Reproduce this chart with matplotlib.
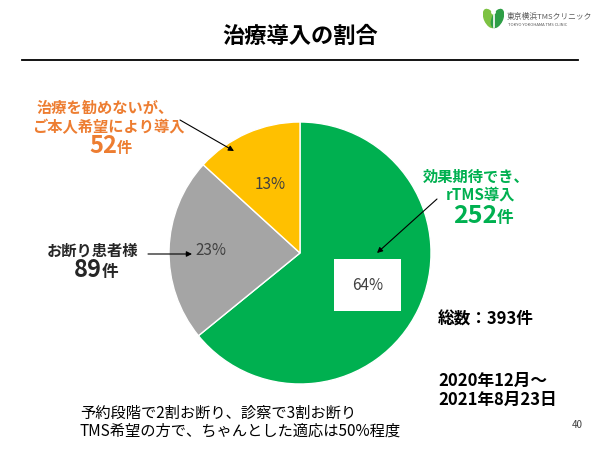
import numpy as np
import matplotlib
matplotlib.use('Agg')
import matplotlib.pyplot as plt
from matplotlib.patches import Ellipse, Circle
from matplotlib.lines import Line2D

plt.rcParams['font.family'] = ['Noto Sans CJK JP', 'DejaVu Sans']

# data
categories = ['効果期待でき、rTMS導入', 'お断り患者様', 'ご本人希望により導入']
counts = [252, 89, 52]
colors = ['#00B050', '#A5A5A5', '#FFC000']
total = 393

W, H = 600, 450
def fx(x):
    return x / W
def fy(y):
    return 1 - y / H

fig = plt.figure(figsize=(6, 4.5), dpi=100)

# pie
cx, cy, r = 300, 253, 131
ax = fig.add_axes([fx(cx - r), fy(cy + r), 2 * r / W, 2 * r / H])
wedges, texts, autotexts = ax.pie(counts, colors=colors, startangle=90, counterclock=False,
                                  autopct='%1.0f%%', pctdistance=0.57,
                                  wedgeprops=dict(edgecolor='white', linewidth=1),
                                  textprops=dict(color='#404040', fontsize=11))
ax.set_xlim(-1, 1)
ax.set_ylim(-1, 1)
ax.set_aspect('equal')
# gray label a bit further out
w = wedges[1]
ang = np.deg2rad((w.theta1 + w.theta2) / 2)
autotexts[1].set_position((0.68 * np.cos(ang), 0.68 * np.sin(ang)))
# white box behind the green value
autotexts[0].set_bbox(dict(facecolor='white', edgecolor='none', boxstyle='square,pad=1.15'))

# title + rule
fig.text(fx(300), fy(36), '治療導入の割合', ha='center', va='center', fontsize=16, fontweight='bold')
fig.add_artist(Line2D([fx(22), fx(578)], [fy(60), fy(60)], color='black', lw=1.3))

# logo
lax = fig.add_axes([fx(483), fy(29), 21 / W, 21 / H])
lax.set_xlim(-1, 1)
lax.set_ylim(-1, 1)
lax.set_aspect('equal')
lax.axis('off')
lax.add_patch(Ellipse((-0.38, 0.0), 0.95, 1.85, angle=25, color='#7DC242'))
lax.add_patch(Ellipse((0.38, 0.0), 0.95, 1.85, angle=-25, color='#2E9E46'))
lax.add_patch(Circle((0, 0.6), 0.16, color='white'))
lax.plot([0, 0], [0.35, -0.8], color='white', lw=1.2)
fig.text(fx(507), fy(17), '東京横浜TMSクリニック', ha='left', va='center', fontsize=5.6,
         color='#595959')
fig.text(fx(508), fy(24.5), 'TOKYO YOKOHAMA TMS CLINIC', ha='left', va='center', fontsize=3,
         color='#595959')

# labels
orange = '#ED7D31'
green = '#00B050'
fig.text(fx(105), fy(108), '治療を勧めないが、', ha='center', va='center', fontsize=11,
         fontweight='bold', color=orange)
fig.text(fx(108), fy(127), 'ご本人希望により導入', ha='center', va='center', fontsize=11,
         fontweight='bold', color=orange)
fig.text(fx(117), fy(153), str(counts[2]), ha='right', va='baseline', fontsize=17,
         fontweight='bold', color=orange)
fig.text(fx(117), fy(153), '件', ha='left', va='baseline', fontsize=11,
         fontweight='bold', color=orange)

fig.text(fx(476), fy(177), '効果期待でき、', ha='center', va='center', fontsize=11,
         fontweight='bold', color=green)
fig.text(fx(480), fy(195), 'rTMS導入', ha='center', va='center', fontsize=11,
         fontweight='bold', color=green)
fig.text(fx(497), fy(223), str(counts[0]), ha='right', va='baseline', fontsize=18,
         fontweight='bold', color=green)
fig.text(fx(497), fy(223), '件', ha='left', va='baseline', fontsize=12,
         fontweight='bold', color=green)

fig.text(fx(93), fy(251), 'お断り患者様', ha='center', va='center', fontsize=11,
         fontweight='bold', color='#262626')
fig.text(fx(102), fy(277), str(counts[1]), ha='right', va='baseline', fontsize=17,
         fontweight='bold', color='#262626')
fig.text(fx(102), fy(277), '件', ha='left', va='baseline', fontsize=12,
         fontweight='bold', color='#262626')

# arrows
arrow = dict(arrowstyle='-|>', color='black', lw=0.8, mutation_scale=8, shrinkA=0, shrinkB=0)
ax.annotate('', xy=(fx(234), fy(151)), xytext=(fx(180), fy(120)), xycoords='figure fraction',
            textcoords='figure fraction', arrowprops=arrow)
ax.annotate('', xy=(fx(377), fy(253)), xytext=(fx(437), fy(199)), xycoords='figure fraction',
            textcoords='figure fraction', arrowprops=arrow)
ax.annotate('', xy=(fx(192), fy(254)), xytext=(fx(148), fy(254)), xycoords='figure fraction',
            textcoords='figure fraction', arrowprops=arrow)

# side notes
fig.text(fx(438), fy(320), '総数：%d件' % total, ha='left', va='center', fontsize=12,
         fontweight='bold', color='black')
fig.text(fx(438), fy(381), '2020年12月～', ha='left', va='center', fontsize=12,
         fontweight='bold', color='black')
fig.text(fx(438), fy(400), '2021年8月23日', ha='left', va='center', fontsize=12,
         fontweight='bold', color='black')

fig.text(fx(80), fy(413), '予約段階で2割お断り、診察で3割お断り', ha='left', va='center',
         fontsize=11, color='black')
fig.text(fx(80), fy(431), 'TMS希望の方で、ちゃんとした適応は50%程度', ha='left', va='center',
         fontsize=11, color='black')
fig.text(fx(577), fy(425), '40', ha='center', va='center', fontsize=7, color='#404040')

fig.savefig('out.png', dpi=100)
